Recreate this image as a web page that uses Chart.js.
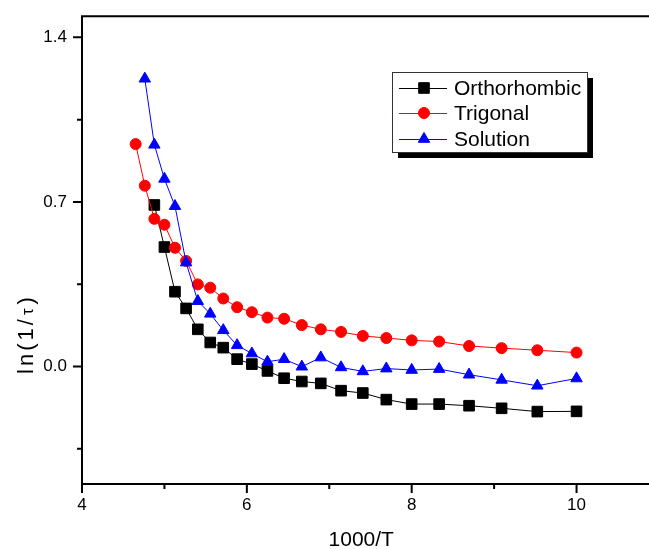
<!DOCTYPE html>
<html>
<head>
<meta charset="utf-8">
<script src="https://cdn.jsdelivr.net/npm/chart.js@4"></script>
<style>
  html, body { margin: 0; padding: 0; background: #fff; }
  #wrap { width: 649px; height: 549px; }
</style>
</head>
<body>
<div id="wrap"><canvas id="grafica" width="649" height="549"></canvas></div>
<script>
// 1000/T values
let xOrtho = [4.878, 5.0, 5.128, 5.263, 5.405, 5.556, 5.714, 5.882, 6.061, 6.25, 6.452, 6.667, 6.897, 7.143, 7.407, 7.692, 8.0, 8.333, 8.696, 9.091, 9.524, 10.0];
let yOrtho = [0.687, 0.508, 0.318, 0.247, 0.158, 0.102, 0.080, 0.031, 0.010, -0.019, -0.050, -0.064, -0.072, -0.103, -0.113, -0.141, -0.160, -0.160, -0.167, -0.178, -0.192, -0.191];

let xTrig = [4.651, 4.762, 4.878, 5.0, 5.128, 5.263, 5.405, 5.556, 5.714, 5.882, 6.061, 6.25, 6.452, 6.667, 6.897, 7.143, 7.407, 7.692, 8.0, 8.333, 8.696, 9.091, 9.524, 10.0];
let yTrig = [0.946, 0.769, 0.628, 0.603, 0.505, 0.449, 0.349, 0.335, 0.289, 0.252, 0.231, 0.208, 0.203, 0.176, 0.158, 0.147, 0.130, 0.121, 0.111, 0.106, 0.087, 0.078, 0.069, 0.059];

let xSol = [4.762, 4.878, 5.0, 5.128, 5.263, 5.405, 5.556, 5.714, 5.882, 6.061, 6.25, 6.452, 6.667, 6.897, 7.143, 7.407, 7.692, 8.0, 8.333, 8.696, 9.091, 9.524, 10.0];
let ySol = [1.224, 0.943, 0.798, 0.682, 0.442, 0.278, 0.224, 0.154, 0.090, 0.055, 0.020, 0.031, -0.001, 0.038, -0.004, -0.021, -0.009, -0.015, -0.011, -0.035, -0.057, -0.082, -0.051];

let xMajorTicks = [4, 6, 8, 10];
let xMinorTicks = [5, 7, 9];
let yMajorTicks = [0.0, 0.7, 1.4];
let yMinorTicks = [-0.35, 0.35, 1.05];

function pts(xs, ys) {
    return xs.map((x, i) => ({ x: x, y: ys[i] }));
}

// frame, ticks, axis title and legend box
const frame = {
    id: "frame",
    afterDraw(chart) {
        const ctx = chart.ctx;
        const a = chart.chartArea;
        const sx = chart.scales.x, sy = chart.scales.y;
        const W = chart.width;
        ctx.save();
        ctx.strokeStyle = "#000";
        ctx.lineWidth = 2;
        ctx.beginPath();
        ctx.moveTo(a.left, a.top); ctx.lineTo(W, a.top);
        ctx.moveTo(a.left, a.top - 1); ctx.lineTo(a.left, a.bottom + 1);
        ctx.moveTo(a.left - 1, a.bottom); ctx.lineTo(W, a.bottom);
        xMajorTicks.forEach(v => { let p = sx.getPixelForValue(v); ctx.moveTo(p, a.bottom); ctx.lineTo(p, a.bottom + 9); });
        xMinorTicks.forEach(v => { let p = sx.getPixelForValue(v); ctx.moveTo(p, a.bottom); ctx.lineTo(p, a.bottom + 5); });
        yMajorTicks.forEach(v => { let p = sy.getPixelForValue(v); ctx.moveTo(a.left, p); ctx.lineTo(a.left - 9, p); });
        yMinorTicks.forEach(v => { let p = sy.getPixelForValue(v); ctx.moveTo(a.left, p); ctx.lineTo(a.left - 5, p); });
        ctx.stroke();

        // y title ln(1/tau)
        ctx.fillStyle = "#000";
        ctx.translate(27, 334);
        ctx.rotate(-Math.PI / 2);
        ctx.textBaseline = "middle";
        ctx.textAlign = "left";
        ctx.letterSpacing = "3px";
        const big = "22px 'Liberation Sans', Arial", small = "17px 'Liberation Sans', Arial";
        ctx.font = big; let w1 = ctx.measureText("ln(1/").width, w3 = ctx.measureText(")").width;
        ctx.font = small; let w2 = ctx.measureText("\u03c4").width + 2;
        let x0 = -(w1 + w2 + w3) / 2;
        ctx.font = big; ctx.fillText("ln(1/", x0, 0);
        ctx.font = small; ctx.fillText("\u03c4", x0 + w1 + 1, 1);
        ctx.font = big; ctx.fillText(")", x0 + w1 + w2, 0);
        ctx.restore();

        // legend
        ctx.save();
        const bx = 392, by = 72, bw = 195, bh = 80;
        ctx.fillStyle = "#000";
        ctx.fillRect(bx + 6, by + 6, bw, bh);
        ctx.fillStyle = "#fff";
        ctx.fillRect(bx, by, bw, bh);
        ctx.strokeStyle = "#333";
        ctx.lineWidth = 1;
        ctx.strokeRect(bx + 0.5, by + 0.5, bw, bh);
        const rows = [88, 113, 139];
        ctx.font = "21px 'Liberation Sans', Arial";
        ctx.textBaseline = "middle";
        chart.data.datasets.forEach((ds, i) => {
            let y = rows[i];
            ctx.strokeStyle = ds.borderColor;
            ctx.lineWidth = 1;
            ctx.beginPath(); ctx.moveTo(399, y + 0.5); ctx.lineTo(447, y + 0.5); ctx.stroke();
            ctx.fillStyle = ds.pointBackgroundColor;
            ctx.strokeStyle = ds.pointBorderColor;
            Chart.helpers.drawPoint(ctx, { pointStyle: ds.pointStyle, radius: ds.pointRadius, borderWidth: 1, rotation: 0 }, 424, y);
            ctx.fillStyle = "#000";
            ctx.fillText(ds.label, 454, y + 1);
        });
        ctx.restore();
    }
};

let ctx = document.getElementById("grafica").getContext("2d");
new Chart(ctx, {
    type: "line",
    data: {
        datasets: [{
            label: "Orthorhombic",
            data: pts(xOrtho, yOrtho),
            borderColor: "#000000",
            borderWidth: 1,
            pointStyle: "rect",
            pointRadius: 7.5,
            pointBackgroundColor: "#000000",
            pointBorderColor: "#000000",
            order: 2
        }, {
            label: "Trigonal",
            data: pts(xTrig, yTrig),
            borderColor: "#ff0000",
            borderWidth: 1,
            pointStyle: "circle",
            pointRadius: 5.5,
            pointBackgroundColor: "#ff0000",
            pointBorderColor: "#ff0000",
            order: 1
        }, {
            label: "Solution",
            data: pts(xSol, ySol),
            borderColor: "#0000ff",
            borderWidth: 1,
            pointStyle: "triangle",
            pointRadius: 6.6,
            pointBackgroundColor: "#0000ff",
            pointBorderColor: "#0000ff",
            order: 0
        }]
    },
    options: {
        responsive: false,
        animation: false,
        layout: { padding: { top: 15, left: 0, right: 0, bottom: 0 } },
        plugins: { legend: { display: false }, tooltip: { enabled: false } },
        scales: {
            x: {
                type: "linear",
                min: 4,
                max: 10.776,
                grid: { display: false, drawTicks: true, tickLength: 9 },
                border: { display: false },
                afterBuildTicks: s => { s.ticks = xMajorTicks.map(v => ({ value: v })); },
                afterFit: s => { s.height = 65; },
                ticks: {
                    color: "#000",
                    padding: 2,
                    maxRotation: 0,
                    font: { family: "'Liberation Sans', Arial", size: 17 },
                    callback: v => String(v)
                },
                title: {
                    display: true,
                    text: "1000/T",
                    color: "#000",
                    padding: { top: 0, bottom: 0 },
                    font: { family: "'Liberation Sans', Arial", size: 21, lineHeight: 0.86 }
                }
            },
            y: {
                min: -0.5,
                max: 1.49,
                grid: { display: false, drawTicks: true, tickLength: 9 },
                border: { display: false },
                afterBuildTicks: s => { s.ticks = yMajorTicks.map(v => ({ value: v })); },
                afterFit: s => { s.width = 82; },
                ticks: {
                    color: "#000",
                    padding: 6,
                    font: { family: "'Liberation Sans', Arial", size: 17 },
                    callback: v => v.toFixed(1)
                }
            }
        }
    },
    plugins: [frame]
});
</script>
</body>
</html>
